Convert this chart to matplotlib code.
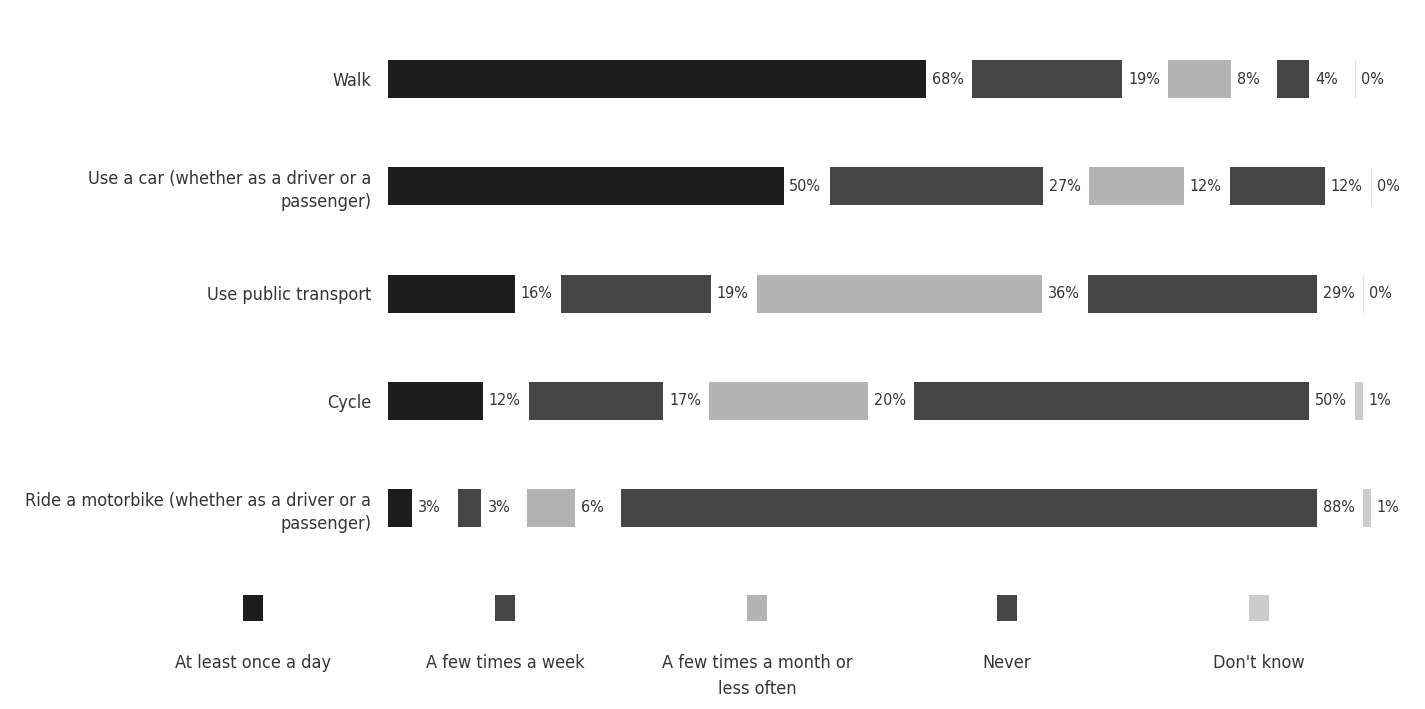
import numpy as np
import matplotlib
matplotlib.use("Agg")
import matplotlib.pyplot as plt
from matplotlib import font_manager
from matplotlib.patches import Rectangle

# prefer a narrow sans face when one is available
_fonts = font_manager.fontManager.ttflist
_names = {f.name for f in _fonts}
if 'Liberation Sans Narrow' in _names:
    plt.rcParams['font.family'] = ['Liberation Sans Narrow', 'DejaVu Sans']
elif any(f.name == 'DejaVu Sans' and 'condensed' in str(f.stretch) for f in _fonts):
    plt.rcParams['font.family'] = ['DejaVu Sans']
    plt.rcParams['font.stretch'] = 'condensed'
else:
    plt.rcParams['font.family'] = ['Liberation Sans', 'DejaVu Sans']

categories = [
    "Walk",
    "Use a car (whether as a driver or a\npassenger)",
    "Use public transport",
    "Cycle",
    "Ride a motorbike (whether as a driver or a\npassenger)",
]
responses = ["At least once a day", "A few times a week",
             "A few times a month or\nless often", "Never", "Don't know"]
at_least_daily = [68, 50, 16, 12, 3]
few_times_week = [19, 27, 19, 17, 3]
few_times_month = [8, 12, 36, 20, 6]
never = [4, 12, 29, 50, 88]
dont_know = [0, 0, 0, 1, 1]

colors = ["#1d1d1d", "#454545", "#b3b3b3", "#454545", "#cccccc"]
text_col = "#353535"

series = [at_least_daily, few_times_week, few_times_month, never, dont_know]
data = np.array(series)  # rows: responses, cols: categories

W, H = 1425, 709
fig = plt.figure(figsize=(W / 100, H / 100), dpi=100)

# legend row drawn on a full-figure pixel axes behind the bars
lg = fig.add_axes([0, 0, 1, 1])
lg.set_xlim(0, W)
lg.set_ylim(H, 0)
lg.axis("off")
leg_x = [253, 505, 757, 1007, 1259]
for xc, c, lab in zip(leg_x, colors, responses):
    lg.add_patch(Rectangle((xc - 10, 595), 20, 26, color=c, linewidth=0))
    lg.text(xc, 654, lab, ha="center", va="top", fontsize=13,
            color=text_col, linespacing=1.6)

# main bar axes, placed in pixel terms
px_per_pct = 7.91
gap = 46 / px_per_pct
x0_px = 388
ax_w_px = W - x0_px - 10
ax = fig.add_axes([x0_px / W, 0, ax_w_px / W, 1])
ax.patch.set_visible(False)
ax.set_xlim(0, ax_w_px / px_per_pct)
y_first, y_step = 79, 107.25
ax.set_ylim((H - y_first) / y_step, -y_first / y_step)
bar_h = 38 / y_step

y = np.arange(len(categories))
for i in range(len(categories)):
    left = 0.0
    for j in range(len(series)):
        v = data[j, i]
        if v > 0:
            ax.barh(y[i], v, left=left, height=bar_h, color=colors[j], linewidth=0)
        else:
            ax.barh(y[i], v, left=left, height=bar_h, color=colors[j],
                    edgecolor="#e0e0e0", linewidth=0.8)
        ax.text(left + v + 0.75, y[i], f"{v}%", va="center", ha="left",
                fontsize=11.5, color=text_col)
        left += v + gap

ax.set_yticks(y)
ax.set_yticklabels(categories, fontsize=13, color=text_col, linespacing=1.35)
ax.tick_params(axis="y", length=0, pad=12)
ax.set_xticks([])
for s in ax.spines.values():
    s.set_visible(False)

fig.savefig("out.png", dpi=100)
